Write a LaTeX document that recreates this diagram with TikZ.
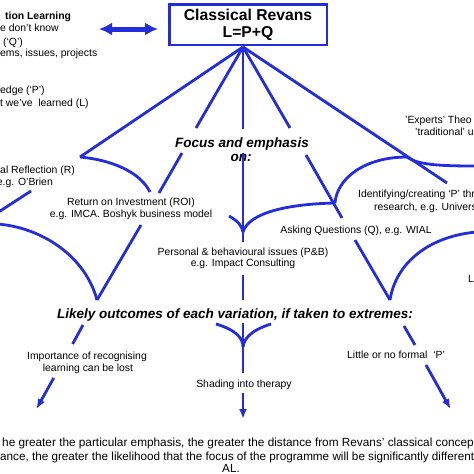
\documentclass[tikz,border=0pt]{standalone}
\usepackage{fontspec}
\setmainfont{Liberation Sans}
\usetikzlibrary{arrows.meta}
\definecolor{rb}{RGB}{35,45,220}
\begin{document}
\begin{tikzpicture}[x=1pt,y=-1pt,
  bl/.style={draw=rb, line width=2.8pt},
  arr/.style={draw=rb, line width=2.8pt, -{Latex[length=10pt,width=8pt]}},
  dbl/.style={draw=rb, line width=5pt, {Latex[length=13pt,width=13pt]}-{Latex[length=13pt,width=13pt]}},
  lb/.style={font=\fontsize{10.4}{12.5}\selectfont, inner sep=0pt, anchor=base},
  lbb/.style={font=\fontsize{10.4}{12.5}\selectfont\bfseries, inner sep=0pt, anchor=base},
  hd/.style={font=\fontsize{13.5}{16}\selectfont\bfseries\itshape, inner sep=0pt, anchor=base},
  bt/.style={font=\fontsize{11.7}{14}\selectfont, inner sep=0pt, anchor=base},
  boxst/.style={draw=rb, line width=2.5pt, minimum width=157.5pt, minimum height=40.5pt,
    inner sep=0pt, align=center, font=\fontsize{15.7}{17}\selectfont\bfseries}
]
\useasboundingbox (0,0) rectangle (474,474);
\fill[white] (0,0) rectangle (474,474);

% top box
\node[boxst] (box) at (248,24.5) {Classical Revans\\L=P+Q};
\coordinate (apex) at (243,47);

% double arrow
\coordinate (da1) at (99,29);
\coordinate (da2) at (158,29);
\draw[dbl] (da1) -- (da2);

% left text block
\node[lbb, anchor=base west] (t1) at (5,19.5) {tion Learning};
\node[lb, anchor=base west] (t2) at (0,31.5) {e don’t know};
\node[lb, anchor=base west] (t3) at (3,45.5) {(‘Q’)};
\node[lb, anchor=base west] (t4) at (0,56.5) {ems, issues, projects};
\node[lb, anchor=base west] (t5) at (0,93.5) {edge (‘P’)};
\node[lb, anchor=base west] (t6) at (0,106.5) {t we’ve\ \ learned (L)};

% Focus text
\node[hd] (f1) at (242,147.5) {Focus and emphasis};
\node[hd] (f2) at (241,161.5) {on:};

% labels
\node[lb, anchor=base east] (r1) at (75,173.5) {al Reflection (R)};
\node[lb, anchor=base east] (r2) at (53,185.5) {e.g. O’Brien};
\node[lb] (roi1) at (131,205.5) {Return on Investment (ROI)};
\node[lb] (roi2) at (131,217.5) {e.g. IMCA. Boshyk business model};
\node[lb] (pb1) at (243,255.5) {Personal \& behavioural issues (P\&B)};
\node[lb] (pb2) at (243,266.5) {e.g. Impact Consulting};
\node[lb] (q1) at (356,233.5) {Asking Questions (Q), e.g. WIAL};
\node[lb, anchor=base west] (id1) at (358,197.5) {Identifying/creating ‘P’ thr};
\node[lb, anchor=base west] (id2) at (374,210.5) {research, e.g. Univers};
\node[lb, anchor=base west] (ex1) at (405,123.5) {'Experts' Theo};
\node[lb, anchor=base west] (ex2) at (415,135.5) {'traditional' u};
\node[lb, anchor=base west] (lx) at (468,282.5) {L};

% outcomes
\node[hd] (lo) at (235,318.5) {Likely outcomes of each variation, if taken to extremes:};
\node[lb] (o1a) at (87,359.5) {Importance of recognising};
\node[lb] (o1b) at (88,371.5) {learning can be lost};
\node[lb] (o2) at (244,387.5) {Shading into therapy};
\node[lb] (o3) at (396,358.5) {Little or no formal\ \ ‘P’};

% bottom text
\node[bt, font=\fontsize{11.8}{14}\selectfont, anchor=base west] (b1) at (2,446) {he greater the particular emphasis, the greater the distance from Revans’ classical concep};
\node[bt, anchor=base west] (b2) at (0,460) {ance, the greater the likelihood that the focus of the programme will be significantly different};
\node[bt] (b3) at (231,472) {AL.};

% branch coordinates
\coordinate (c1) at (80,157);
\coordinate (c1b) at (31,191);
\coordinate (c1c) at (-3,213);
\coordinate (c2a) at (196,128);
\coordinate (c2b) at (182,153);
\coordinate (c2c) at (159,193);
\coordinate (c2d) at (141,225);
\coordinate (k1) at (97,300);
\coordinate (c3a) at (243,129);
\coordinate (c3b) at (243,153);
\coordinate (y1) at (243,232);
\coordinate (c3c) at (243,242);
\coordinate (c3d) at (243,275);
\coordinate (c3e) at (243,300);
\coordinate (c3f) at (243,323);
\coordinate (y2) at (243,347);
\coordinate (c3g) at (243,373);
\coordinate (c3h) at (243,393);
\coordinate (c3i) at (243,419);
\coordinate (c4a) at (290,128);
\coordinate (c4b) at (306,155);
\coordinate (k3) at (335,203);
\coordinate (c4c) at (342,218);
\coordinate (c4d) at (355,240);
\coordinate (k2) at (390,300);
\coordinate (c5) at (447,183);
\coordinate (k4) at (407,157);

% straight branches
\draw[bl] (apex) -- (c1);
\draw[bl] (c1b) -- (c1c);
\draw[bl] (apex) -- (c2a);
\draw[bl] (c2b) -- (c2c);
\draw[bl] (c2d) -- (k1);
\draw[bl] (apex) -- (c3a);
\draw[bl] (c3b) -- (c3c);
\draw[bl] (c3d) -- (c3e);
\draw[bl] (c3f) -- (c3g);
\draw[arr] (c3h) -- (c3i);
\draw[bl] (apex) -- (c4a);
\draw[bl] (c4b) -- (c4c);
\draw[bl] (c4d) -- (k2);
\draw[bl] (apex) -- (c5);

% curves
\draw[bl] (c1) .. controls (112,160) and (140,172) .. (150,192);
\draw[bl] (-3,224) .. controls (40,227) and (85,255) .. (k1);
\draw[bl] (229,216) .. controls (238,221) and (242,226) .. (y1);
\draw[bl] (y1) .. controls (249,212) and (290,204) .. (k3);
\draw[bl] (k3) .. controls (337,178) and (365,157) .. (k4);
\draw[bl] (k4) .. controls (418,165) and (440,166) .. (477,166);
\draw[bl] (k2) .. controls (396,262) and (430,236) .. (477,232);
\draw[bl] (216,324) .. controls (236,330) and (243,338) .. (y2);
\draw[bl] (271,324) .. controls (252,330) and (244,338) .. (y2);

% outcome arrows
\coordinate (l1) at (83,325);
\coordinate (l2) at (72.6,344);
\coordinate (l3) at (53.7,378);
\coordinate (l4) at (36.4,409);
\draw[bl] (l1) -- (l2);
\draw[arr] (l3) -- (l4);
\coordinate (m1) at (404,326);
\coordinate (m2) at (415,345);
\coordinate (m3) at (426,365);
\coordinate (m4) at (450.6,409);
\draw[bl] (m1) -- (m2);
\draw[arr] (m3) -- (m4);
\end{tikzpicture}
\end{document}
